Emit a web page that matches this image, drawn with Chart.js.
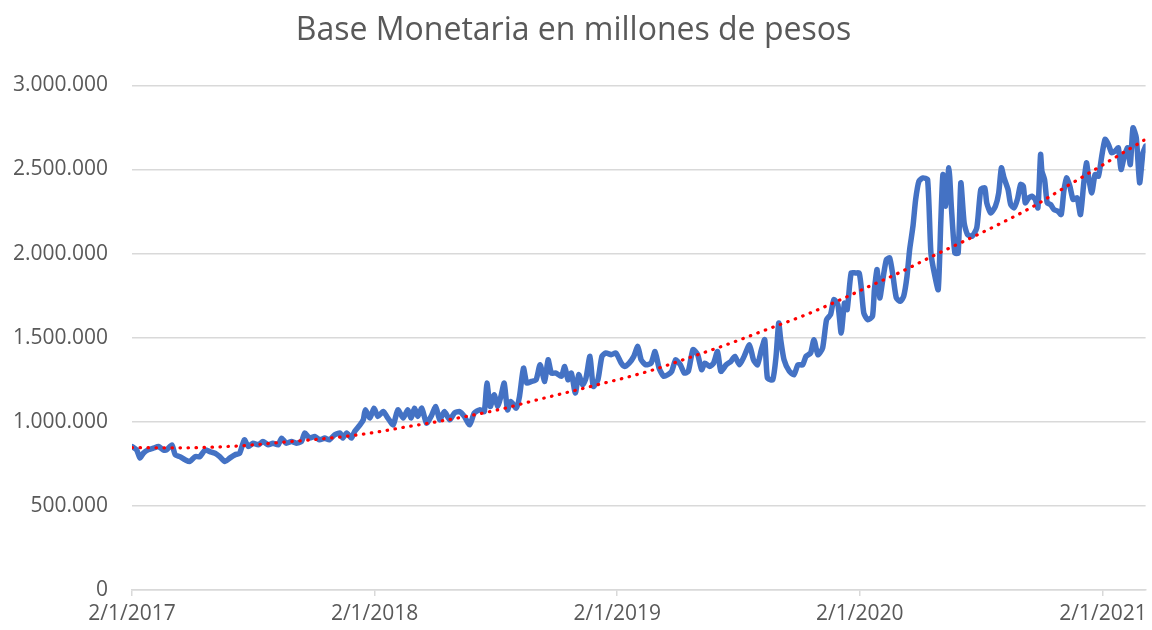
<!DOCTYPE html>
<html>
<head>
<meta charset="utf-8">
<script src="https://cdn.jsdelivr.net/npm/chart.js@4/dist/chart.umd.min.js"></script>
<style>
  html, body { margin: 0; padding: 0; background: #ffffff; }
  #wrap { width: 1152px; height: 630px; position: relative; }
</style>
</head>
<body>
<div id="wrap"><canvas id="c"></canvas></div>
<script>
// Day offsets from 2/1/2017 (dd/mm/yyyy)
const days = [0,7,12,17,24,32,40,47,52,60,65,72,80,87,95,102,110,117,125,132,140,147,155,162,169,175,182,190,197,205,212,220,225,232,240,247,255,260,267,275,282,290,297,305,313,317,323,330,335,343,348,351,358,364,370,378,385,393,400,408,415,420,425,430,436,443,450,457,463,470,478,485,493,500,508,515,523,530,534,539,545,550,555,560,565,570,578,583,589,594,601,608,614,621,626,631,638,646,651,656,661,667,672,678,683,689,694,701,707,713,721,728,736,741,748,755,761,766,773,781,787,793,800,806,812,818,825,831,837,844,851,857,862,869,875,881,886,894,901,907,914,921,929,935,941,947,952,956,964,969,973,976,981,989,996,1002,1009,1014,1021,1026,1032,1039,1045,1051,1056,1062,1067,1072,1076,1082,1089,1094,1097,1101,1107,1114,1117,1121,1125,1130,1135,1140,1145,1150,1156,1161,1166,1170,1175,1179,1184,1190,1197,1202,1208,1213,1217,1220,1224,1229,1233,1238,1243,1247,1252,1257,1264,1271,1277,1283,1286,1292,1299,1304,1308,1312,1318,1322,1327,1332,1337,1341,1344,1349,1354,1359,1363,1367,1369,1373,1377,1382,1387,1393,1398,1402,1406,1411,1416,1422,1427,1432,1436,1439,1444,1449,1454,1459,1464,1469,1474,1479,1484,1488,1493,1498,1502,1506,1511,1516,1521,1525];
const values = [853000,833000,784000,813000,833000,843000,853000,833000,833000,863000,804000,793000,774000,764000,793000,793000,833000,823000,813000,793000,764000,784000,804000,813000,893000,853000,873000,863000,883000,863000,873000,863000,903000,873000,883000,873000,883000,933000,903000,913000,893000,903000,893000,923000,933000,903000,933000,903000,943000,982000,1012000,1071000,1022000,1081000,1032000,1061000,1022000,982000,1071000,1022000,1071000,1022000,1081000,1032000,1081000,992000,1032000,1091000,1012000,1061000,1012000,1052000,1061000,1032000,982000,1052000,1071000,1061000,1230000,1091000,1161000,1091000,1151000,1230000,1071000,1121000,1081000,1151000,1319000,1230000,1240000,1250000,1339000,1240000,1369000,1290000,1290000,1270000,1329000,1250000,1290000,1171000,1280000,1220000,1260000,1389000,1210000,1250000,1389000,1409000,1399000,1409000,1349000,1329000,1349000,1389000,1448000,1369000,1339000,1349000,1418000,1319000,1270000,1280000,1300000,1369000,1339000,1290000,1300000,1429000,1399000,1310000,1349000,1329000,1349000,1418000,1300000,1339000,1359000,1389000,1339000,1389000,1458000,1369000,1339000,1429000,1488000,1260000,1250000,1389000,1587000,1488000,1369000,1300000,1280000,1339000,1339000,1389000,1409000,1488000,1399000,1438000,1607000,1637000,1726000,1696000,1528000,1706000,1667000,1885000,1885000,1885000,1805000,1647000,1607000,1627000,1786000,1905000,1736000,1855000,1964000,1974000,1865000,1736000,1716000,1746000,1865000,2024000,2163000,2321000,2431000,2450000,2440000,2004000,1865000,1786000,2202000,2470000,2282000,2510000,2262000,2004000,2004000,2421000,2183000,2113000,2103000,2153000,2381000,2391000,2302000,2242000,2282000,2361000,2510000,2450000,2381000,2292000,2272000,2321000,2411000,2401000,2302000,2331000,2341000,2321000,2272000,2589000,2490000,2440000,2302000,2292000,2262000,2252000,2232000,2371000,2450000,2401000,2321000,2331000,2232000,2421000,2540000,2460000,2361000,2470000,2460000,2579000,2679000,2649000,2599000,2609000,2629000,2500000,2579000,2629000,2530000,2748000,2689000,2421000,2599000,2639000];

// Polynomial trend line
const trendDays = [0,65,162,225,285,335,370,407,458,508,557,609,658,708,745,781,841,899,956,1016,1071,1109,1151,1206,1262,1307,1352,1405,1459,1512,1525];
const trendValues = [847000,845000,857000,878000,898000,920000,940000,966000,1000000,1036000,1077000,1130000,1178000,1228000,1265000,1305000,1385000,1465000,1550000,1640000,1735000,1805000,1880000,1988000,2093000,2180000,2272000,2397000,2524000,2649000,2680000];

const tickDays = [0,365,730,1095,1461];
const tickLabels = ['2/1/2017','2/1/2018','2/1/2019','2/1/2020','2/1/2021'];
const yTicks = [0,500000,1000000,1500000,2000000,2500000,3000000];
const title = 'Base Monetaria en millones de pesos';

function fmt(v) {
  return String(Math.round(v)).replace(/\B(?=(\d{3})+(?!\d))/g, '.');
}

const series = days.map((d, i) => ({ x: d, y: values[i] }));
const trend = trendDays.map((d, i) => ({ x: d, y: trendValues[i] }));

new Chart(document.getElementById('c'), {
  type: 'line',
  data: {
    datasets: [
      {
        label: 'Tendencia',
        data: trend,
        borderColor: '#ff0000',
        borderWidth: 3.2,
        borderDash: [0.5, 7.5],
        borderCapStyle: 'round',
        pointRadius: 0,
        cubicInterpolationMode: 'monotone',
        fill: false,
        order: 0
      },
      {
        label: 'Base Monetaria',
        data: series,
        borderColor: '#4472c4',
        borderWidth: 5.5,
        borderJoinStyle: 'round',
        borderCapStyle: 'round',
        pointRadius: 0,
        tension: 0.2,
        fill: false,
        order: 1
      }
    ]
  },
  options: {
    responsive: true,
    maintainAspectRatio: false,
    animation: false,
    events: [],
    layout: { padding: { left: 0, right: 5, top: 0, bottom: 0 } },
    plugins: {
      legend: { display: false },
      tooltip: { enabled: false },
      title: {
        display: true,
        text: title,
        color: '#595959',
        font: { family: 'Open Sans', size: 32, weight: 400 },
        padding: { top: 12, bottom: 35 }
      }
    },
    scales: {
      x: {
        type: 'linear',
        min: 0,
        max: days[days.length - 1],
        afterBuildTicks: (s) => { s.ticks = tickDays.map(v => ({ value: v })); },
        afterFit: (s) => { s.height = 40; },
        ticks: {
          autoSkip: false,
          maxRotation: 0,
          padding: 5,
          color: '#595959',
          font: { family: 'Open Sans', size: 21 },
          callback: (v) => { const i = tickDays.indexOf(v); return i >= 0 ? tickLabels[i] : ''; }
        },
        grid: { display: true, drawOnChartArea: false, drawTicks: true, tickLength: 6, color: '#d9d9d9', lineWidth: 1.5 },
        border: { display: true, color: '#d9d9d9', width: 1.5 }
      },
      y: {
        min: 0,
        max: 3000000,
        afterBuildTicks: (s) => { s.ticks = yTicks.map(v => ({ value: v })); },
        afterFit: (s) => { s.width = 132; },
        ticks: {
          padding: 24,
          color: '#595959',
          font: { family: 'Open Sans', size: 21 },
          callback: (v) => fmt(v)
        },
        grid: { display: true, drawTicks: false, color: '#d9d9d9', lineWidth: 1.5 },
        border: { display: false }
      }
    }
  }
});
</script>
</body>
</html>
